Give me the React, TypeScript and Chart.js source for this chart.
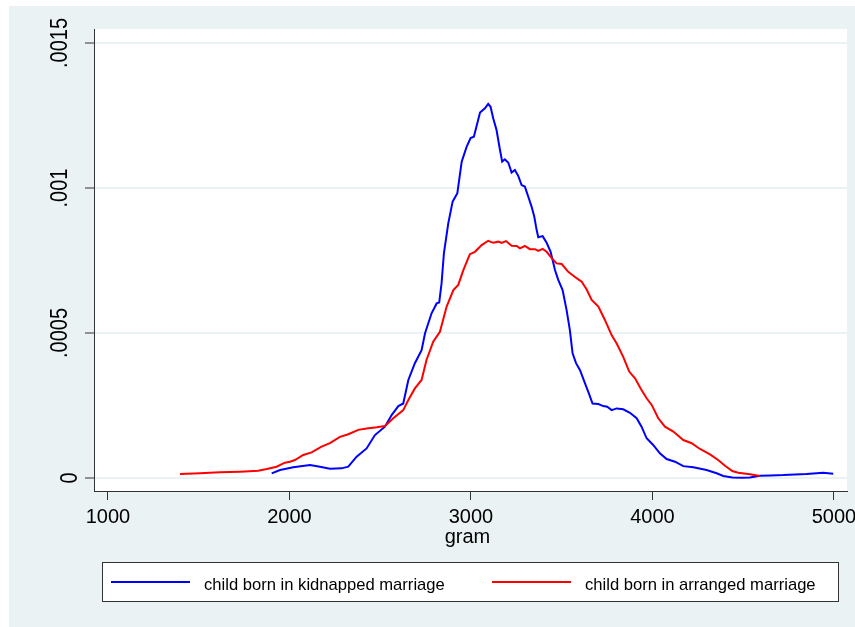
import React, { useEffect, useRef } from "react";
import { Chart, registerables } from "chart.js";

Chart.register(...registerables);

// ---- data (birth weight densities) ----
const kidnappedX = [
  1902, 1948, 2021, 2113, 2168, 2223, 2287, 2324, 2370, 2425, 2471, 2526, 2563, 2600, 2627, 2655,
  2691, 2728, 2747, 2783, 2811, 2825, 2838, 2851, 2875, 2899, 2925, 2949, 2976, 2998, 3016, 3035,
  3050, 3077, 3095, 3108, 3123, 3141, 3160, 3172, 3187, 3206, 3224, 3242, 3261, 3279, 3297, 3316,
  3334, 3349, 3362, 3371, 3395, 3417, 3439, 3463, 3481, 3505, 3527, 3545, 3560, 3579, 3601, 3628,
  3646, 3670, 3702, 3729, 3751, 3775, 3803, 3839, 3876, 3913, 3940, 3968, 4004, 4041, 4078, 4124,
  4170, 4225, 4298, 4354, 4390, 4440, 4493, 4537, 4592, 4650, 4721, 4849, 4941, 4996,
];
const kidnappedY = [
  0.0000162, 0.0000276, 0.0000368, 0.0000448, 0.000039, 0.000032, 0.0000333, 0.000039, 0.0000736,
  0.000102, 0.000148, 0.000177, 0.000217, 0.000248, 0.000257, 0.000338, 0.000396, 0.000441,
  0.000499, 0.000568, 0.000602, 0.000605, 0.000671, 0.000775, 0.000878, 0.000953, 0.000982,
  0.001091, 0.001142, 0.001172, 0.001177, 0.001223, 0.00126, 0.001275, 0.00129, 0.00128, 0.00124,
  0.0012, 0.001131, 0.001091, 0.001099, 0.001087, 0.001053, 0.001062, 0.001041, 0.00101, 0.001005,
  0.00097, 0.000936, 0.000901, 0.000855, 0.00083, 0.000834, 0.000811, 0.00078, 0.000717, 0.000683,
  0.000648, 0.000579, 0.00051, 0.00043, 0.000396, 0.000372, 0.000327, 0.000298, 0.000257, 0.000255,
  0.000248, 0.000246, 0.000234, 0.00024, 0.000237, 0.000225, 0.000206, 0.000177, 0.000137,
  0.000114, 0.0000851, 0.0000655, 0.0000563, 0.000041, 0.0000368, 0.0000276, 0.0000162, 0.0000069,
  0.000002, 0.000001, 0.000002, 0.0000079, 0.000009, 0.00001, 0.0000138, 0.0000183, 0.0000148,
];

const arrangedX = [
  1397, 1507, 1617, 1727, 1828, 1875, 1929, 1975, 2003, 2030, 2076, 2122, 2177, 2223, 2278, 2324,
  2379, 2425, 2480, 2526, 2572, 2627, 2655, 2691, 2728, 2755, 2792, 2829, 2866, 2903, 2930, 2958,
  2994, 3022, 3059, 3095, 3123, 3150, 3169, 3193, 3224, 3252, 3270, 3297, 3325, 3353, 3371, 3395,
  3417, 3445, 3472, 3500, 3536, 3582, 3610, 3637, 3665, 3702, 3738, 3775, 3803, 3839, 3872, 3904,
  3935, 3968, 3996, 4032, 4069, 4115, 4170, 4216, 4262, 4317, 4362, 4400, 4440, 4473, 4537, 4592,
];
const arrangedY = [
  0.0000138, 0.0000162, 0.0000195, 0.0000218, 0.0000253, 0.000031, 0.000039, 0.0000529, 0.0000563,
  0.000062, 0.0000793, 0.0000885, 0.000108, 0.00012, 0.000142, 0.000151, 0.000166, 0.000171,
  0.000175, 0.000179, 0.000206, 0.000234, 0.000269, 0.000309, 0.000338, 0.000407, 0.00047,
  0.000504, 0.000591, 0.000648, 0.000666, 0.000717, 0.000772, 0.00078, 0.000803, 0.000818,
  0.000811, 0.000815, 0.000811, 0.000817, 0.000801, 0.0008, 0.000792, 0.0008, 0.000789, 0.000789,
  0.000783, 0.00079, 0.00078, 0.000758, 0.00074, 0.000738, 0.000711, 0.000689, 0.000677, 0.000651,
  0.000614, 0.000591, 0.000545, 0.000493, 0.000464, 0.000418, 0.000367, 0.000344, 0.000309,
  0.000275, 0.000252, 0.000206, 0.000177, 0.00016, 0.000131, 0.00012, 0.0001, 0.0000817, 0.000062,
  0.000042, 0.000024, 0.0000183, 0.0000128, 0.0000069,
];

const seriesLabels = ["child born in kidnapped marriage", "child born in arranged marriage"];
const seriesColors = ["#0000ff", "#ff0000"];
const xTicks = [1000, 2000, 3000, 4000, 5000];
const yTicks = [0, 0.0005, 0.001, 0.0015];
const yTickLabels = ["0", ".0005", ".001", ".0015"];
const xTitle = "gram";
const xRange = [923, 5072];
const yRange = [-0.0000448, 0.0015483];

const FONT = '"Liberation Sans", Arial, Helvetica, sans-serif';
const BG = "#EAF2F3";
const AXIS = "#333333";

const decorPlugin = {
  id: "decor",
  afterDraw(chart: any) {
    const ctx = chart.ctx as CanvasRenderingContext2D;
    const ys = chart.scales.y;
    const ca = chart.chartArea;
    ctx.save();
    ctx.fillStyle = "#000";

    // rotated y tick labels
    ctx.font = "20px " + FONT;
    yTicks.forEach((v, i) => {
      const label = yTickLabels[i];
      const py = ys.getPixelForValue(v);
      const w = ctx.measureText(label).width;
      const bx = ca.left - 27 + Math.max(0, 40 - w) * 0.35;
      ctx.save();
      ctx.translate(bx, py);
      ctx.rotate(-Math.PI / 2);
      ctx.scale(1, 1.22);
      ctx.textAlign = "center";
      ctx.textBaseline = "alphabetic";
      ctx.fillText(label, 0, 0);
      ctx.restore();
    });

    // x axis title
    ctx.textAlign = "center";
    ctx.textBaseline = "alphabetic";
    ctx.fillText(xTitle, (ca.left + ca.right) / 2 - 3, ca.bottom + 52);

    // legend box
    const lx = ca.left + 8;
    const lw = ca.right - 8 - lx;
    const ly = ca.bottom + 71;
    const lh = 40;
    ctx.fillStyle = "#ffffff";
    ctx.fillRect(lx, ly, lw, lh);
    ctx.strokeStyle = AXIS;
    ctx.lineWidth = 1;
    ctx.strokeRect(lx + 0.5, ly + 0.5, lw - 1, lh - 1);

    const cols = [lx + 9, lx + 390];
    ctx.font = "16.6px " + FONT;
    ctx.textAlign = "left";
    seriesLabels.forEach((lab, i) => {
      const x0 = cols[i];
      const yy = ly + 20;
      ctx.strokeStyle = seriesColors[i];
      ctx.lineWidth = 2;
      ctx.beginPath();
      ctx.moveTo(x0, yy);
      ctx.lineTo(x0 + 79, yy);
      ctx.stroke();
      ctx.fillStyle = "#000";
      ctx.fillText(lab, x0 + 93, yy + 8);
    });
    ctx.restore();
  },
};

export default function App() {
  const canvasRef = useRef<HTMLCanvasElement | null>(null);

  useEffect(() => {
    const canvas = canvasRef.current;
    if (!canvas) return;
    const makeData = (xs: number[], ys: number[]) => xs.map((x, i) => ({ x, y: ys[i] }));
    const chart = new Chart(canvas, {
      type: "line",
      data: {
        datasets: [
          {
            label: seriesLabels[0],
            data: makeData(kidnappedX, kidnappedY),
            borderColor: seriesColors[0],
            borderWidth: 2,
            pointRadius: 0,
            tension: 0,
            fill: false,
            order: 1,
          },
          {
            label: seriesLabels[1],
            data: makeData(arrangedX, arrangedY),
            borderColor: seriesColors[1],
            borderWidth: 2,
            pointRadius: 0,
            tension: 0,
            fill: false,
            order: 0,
          },
        ],
      },
      options: {
        animation: false,
        responsive: false,
        devicePixelRatio: 1,
        parsing: false as any,
        layout: { padding: { top: 23, right: 8, left: 0, bottom: 66 } },
        plugins: {
          legend: { display: false },
          tooltip: { enabled: false },
        },
        scales: {
          x: {
            type: "linear",
            min: xRange[0],
            max: xRange[1],
            afterBuildTicks: (scale: any) => {
              scale.ticks = xTicks.map((v) => ({ value: v }));
            },
            afterFit: (scale: any) => {
              scale.height = 70;
              scale.paddingLeft = 0;
              scale.paddingRight = 0;
            },
            grid: {
              drawOnChartArea: false,
              drawTicks: true,
              tickLength: 9,
              tickColor: AXIS,
              tickWidth: 1,
            },
            border: { display: true, color: AXIS, width: 1 },
            ticks: {
              autoSkip: false,
              maxRotation: 0,
              minRotation: 0,
              padding: 5,
              color: "#000",
              font: { family: FONT, size: 20 },
              callback: (v: any) => String(v),
            },
          },
          y: {
            type: "linear",
            min: yRange[0],
            max: yRange[1],
            afterBuildTicks: (scale: any) => {
              scale.ticks = yTicks.map((v) => ({ value: v }));
            },
            afterFit: (scale: any) => {
              scale.width = 85;
              scale.paddingTop = 0;
              scale.paddingBottom = 0;
            },
            grid: {
              drawOnChartArea: true,
              color: BG,
              lineWidth: 2,
              drawTicks: true,
              tickLength: 9,
              tickColor: AXIS,
              tickWidth: 1,
            },
            border: { display: true, color: AXIS, width: 1 },
            ticks: { display: false },
          },
        },
      },
      plugins: [
        {
          id: "plotBg",
          beforeDraw(chart: any) {
            const { ctx, chartArea: ca } = chart;
            ctx.save();
            ctx.fillStyle = "#ffffff";
            ctx.fillRect(ca.left, ca.top, ca.right - ca.left, ca.bottom - ca.top);
            ctx.restore();
          },
        },
        decorPlugin,
      ],
    } as any);
    return () => chart.destroy();
  }, []);

  return (
    <div
      style={{
        position: "absolute",
        left: 9,
        top: 6,
        width: 846,
        height: 621,
        background: BG,
      }}
    >
      <canvas ref={canvasRef} width={846} height={621} style={{ display: "block", width: 846, height: 621 }} />
    </div>
  );
}
